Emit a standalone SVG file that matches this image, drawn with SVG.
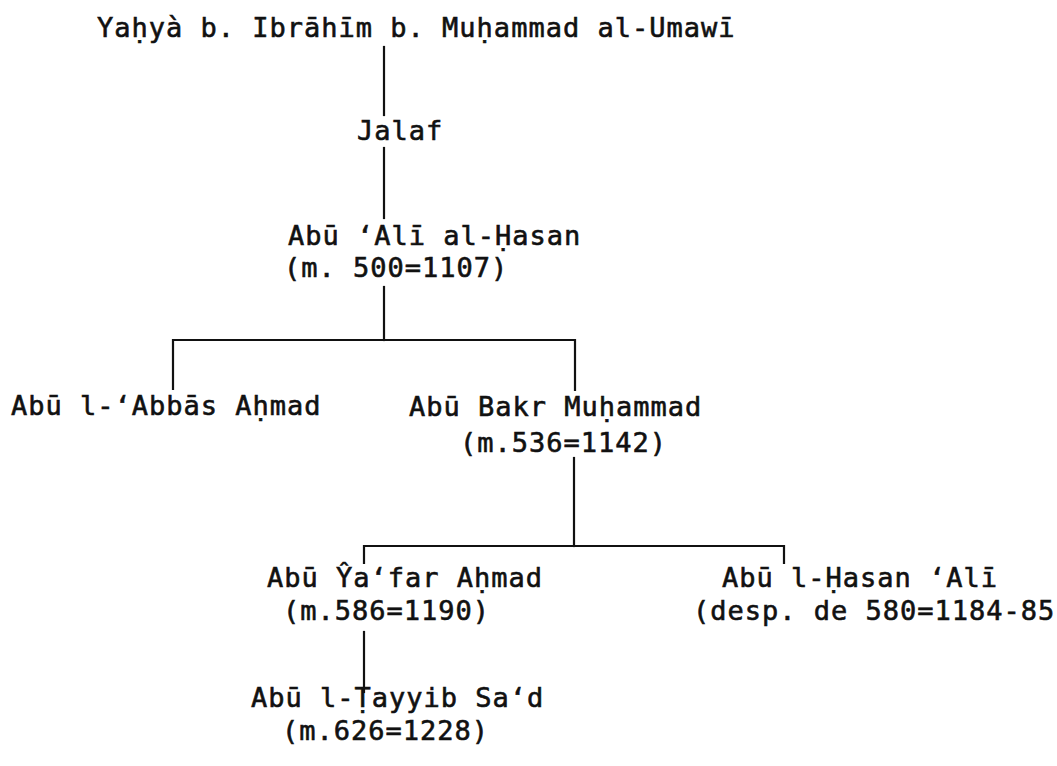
<svg xmlns="http://www.w3.org/2000/svg" width="1057" height="766" viewBox="0 0 1057 766">
<style>
  text { font-family: "DejaVu Sans Mono", "Liberation Mono", monospace; font-size: 27px; letter-spacing: 1px; fill: #111; stroke: #111; stroke-width: 0.6px; }
  .c { stroke: #111; stroke-width: 2.2; fill: none; stroke-linecap: square; }
</style>
<rect width="1057" height="766" fill="#fff"/>
<g id="connectors">
  <path class="c" d="M384 47 V115"/>
  <path class="c" d="M384 148 V218"/>
  <path class="c" d="M384 287 V340"/>
  <path class="c" d="M173 389 V340 H575 V390"/>
  <path class="c" d="M574 458 V546"/>
  <path class="c" d="M364 563 V546 H784 V563"/>
  <path class="c" d="M364 632 V692"/>
</g>
<g id="yahya"><text x="97" y="37">Yaḥyà b. Ibrāhīm b. Muḥammad al-Umawī</text></g>
<g id="jalaf"><text x="357" y="140">Jalaf</text></g>
<g id="abu-ali"><text x="288" y="245">Abū ‘Alī al-Ḥasan</text><text x="284" y="277">(m. 500=1107)</text></g>
<g id="abu-abbas"><text x="11" y="415">Abū l-‘Abbās Aḥmad</text></g>
<g id="abu-bakr"><text x="409" y="416">Abū Bakr Muḥammad</text><text x="460" y="452">(m.536=1142)</text></g>
<g id="abu-yafar"><text x="267" y="587">Abū Ŷa‘far Aḥmad</text><text x="283" y="620">(m.586=1190)</text></g>
<g id="abu-hasan-ali"><text x="722" y="587">Abū l-Ḥasan ‘Alī</text><text x="693" y="620">(desp. de 580=1184-85</text></g>
<g id="abu-tayyib"><text x="251" y="707">Abū l-Ṭayyib Sa‘d</text><text x="282" y="740">(m.626=1228)</text></g>
</svg>
